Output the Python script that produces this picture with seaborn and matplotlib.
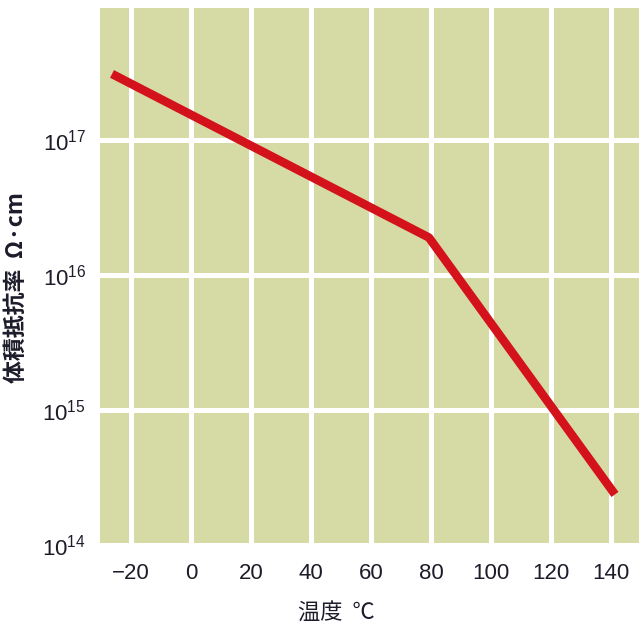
import matplotlib
matplotlib.use("Agg")
import matplotlib.pyplot as plt
import seaborn as sns
import pandas as pd
import numpy as np
from matplotlib.ticker import FixedLocator, FixedFormatter

# Data
temperature = [-26.3, 79.3, 141.3]          # ℃
resistivity = [3.1e17, 1.9e16, 2.37e14]     # Ω·cm
x_ticks = [-20, 0, 20, 40, 60, 80, 100, 120, 140]
x_tick_labels = ["−20", "0", "20", "40", "60", "80", "100", "120", "140"]
y_ticks = [1e14, 1e15, 1e16, 1e17]
y_tick_labels = [r"$\mathregular{10^{14}}$", r"$\mathregular{10^{15}}$",
                 r"$\mathregular{10^{16}}$", r"$\mathregular{10^{17}}$"]

df = pd.DataFrame({"temp": temperature, "rho": resistivity})

base = "Liberation Sans"
sns.set_style("white", {"axes.facecolor": "#d6dba5", "grid.color": "white"})
plt.rcParams["font.family"] = [base, "Noto Sans CJK JP", "DejaVu Sans"]
plt.rcParams["mathtext.fontset"] = "custom"
plt.rcParams["mathtext.rm"] = base

fig = plt.figure(figsize=(6.39, 6.29), dpi=100)
ax = fig.add_axes([100/639, 1 - 545/629, 539/639, 537/629])

sns.lineplot(data=df, x="temp", y="rho", ax=ax, color="#d3121b",
             linewidth=6.2, solid_capstyle="butt", solid_joinstyle="round")

ax.set_yscale("log")
ax.set_xlim(-30.3, 149.3)
ax.set_ylim(1e14, 10**17.98)

ax.xaxis.set_major_locator(FixedLocator(x_ticks))
ax.xaxis.set_major_formatter(FixedFormatter(x_tick_labels))
ax.yaxis.set_major_locator(FixedLocator(y_ticks))
ax.yaxis.set_major_formatter(FixedFormatter(y_tick_labels))
ax.yaxis.set_minor_locator(FixedLocator([]))

ax.grid(True, which="major", color="white", linewidth=3.6)
ax.set_axisbelow(True)
for s in ax.spines.values():
    s.set_visible(False)

ax.tick_params(axis="x", length=0, pad=13, labelsize=16, labelcolor="#1c1c2a")
ax.tick_params(axis="y", length=0, pad=10, labelsize=16, labelcolor="#1c1c2a")

ax.set_xlabel("温度  ℃", fontsize=16, color="#1c1c2a",
              family=["Noto Sans CJK JP", "DejaVu Sans"])
ax.xaxis.set_label_coords(0.438, -0.104)
ax.set_ylabel("体積抵抗率  Ω·cm", fontsize=16.5, color="#1c1c2a",
              family=["Noto Sans CJK JP", "DejaVu Sans"], fontweight="bold")
ax.yaxis.set_label_coords(-0.134, 0.479)

fig.savefig("out.png", dpi=100)
